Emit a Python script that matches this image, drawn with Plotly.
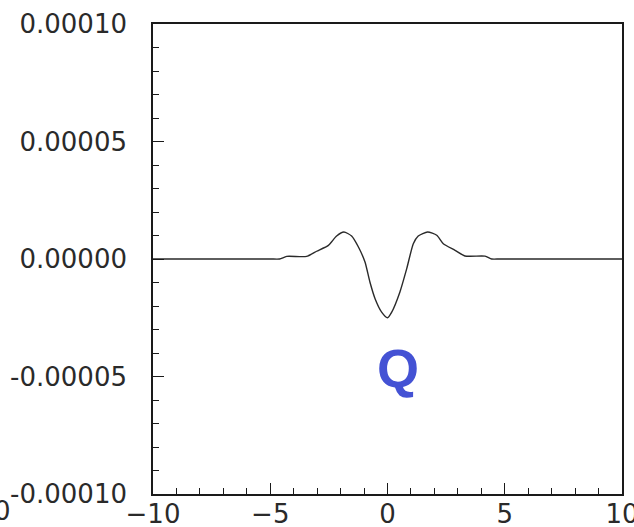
import plotly.graph_objects as go

# Curve values
x_vals = [-10.0, -5.0, -4.6, -4.3, -3.45, -3.02, -2.52, -2.17, -1.86, -1.53, -1.24,
          -0.96, -0.75, -0.53, -0.25, 0.0, 0.18, 0.53, 0.82, 1.10, 1.31, 1.71,
          2.10, 2.38, 2.88, 3.30, 4.16, 4.44, 4.8, 10.0]
y_vals = [0.0, 0.0, 0.0, 1.1e-6, 1.1e-6, 3.3e-6, 5.8e-6, 9.8e-6, 11.5e-6, 9.8e-6, 5.1e-6,
          -1.3e-6, -9.8e-6, -16.9e-6, -22.6e-6, -25.0e-6, -22.6e-6, -14.0e-6, -4.1e-6,
          6.5e-6, 9.8e-6, 11.5e-6, 10.1e-6, 6.5e-6, 3.7e-6, 1.3e-6, 1.2e-6, 0.0, 0.0, 0.0]

x_ticks = [-10, -5, 0, 5, 10]
y_ticks = [-0.0001, -0.00005, 0.0, 0.00005, 0.0001]
y_ticktext = ["-0.00010", "-0.00005", "0.00000", "0.00005", "0.00010"]
label_text = "Q"

fig = go.Figure()
fig.add_trace(go.Scatter(x=x_vals, y=y_vals, mode="lines",
                         line=dict(color="#2a2a2a", width=1.4, shape="spline", smoothing=0.6),
                         showlegend=False, hoverinfo="skip"))

axis_common = dict(showgrid=False, zeroline=False, showline=True, linecolor="#1a1a1a",
                   linewidth=1.6, mirror=True, ticks="inside", ticklen=11, tickwidth=1.4,
                   tickcolor="#1a1a1a", automargin=False, ticklabeloverflow="allow",
                   tickfont=dict(family="DejaVu Sans", size=26, color="#2a2a2a"))

fig.update_xaxes(range=[-10, 10], tickvals=x_ticks, ticklabelstandoff=-4,
                 minor=dict(dtick=1, ticks="inside", ticklen=6, tickwidth=1.4, tickcolor="#1a1a1a"),
                 **axis_common)
fig.update_yaxes(range=[-0.0001, 0.0001], tickvals=y_ticks, ticktext=y_ticktext,
                 ticklabelstandoff=19,
                 minor=dict(dtick=0.00001, ticks="inside", ticklen=6, tickwidth=1.4, tickcolor="#1a1a1a"),
                 **axis_common)

fig.add_annotation(x=0.45, y=-0.0000465, xref="x", yref="y", text="<b>" + label_text + "</b>",
                   showarrow=False, font=dict(family="Liberation Sans", size=54, color="#4452d4"))

# fragment of a neighbouring panel's label at the far left edge
fig.add_annotation(x=-151 / 469, y=-17 / 470, xref="paper", yref="paper",
                   xanchor="center", yanchor="middle", text="0", showarrow=False,
                   font=dict(family="DejaVu Sans", size=26, color="#2a2a2a"))

fig.update_layout(width=634, height=527, margin=dict(l=153, r=12, t=24, b=33),
                  plot_bgcolor="white", paper_bgcolor="white")

fig.write_html("out.html")
